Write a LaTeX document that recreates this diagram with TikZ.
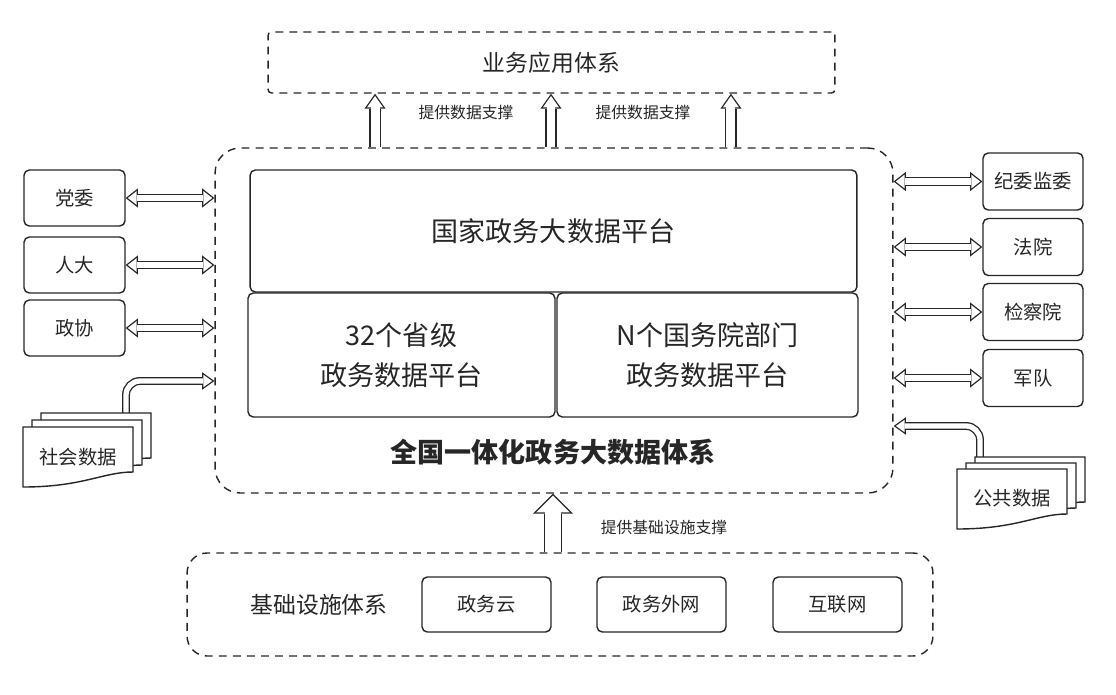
\documentclass[tikz,border=0pt]{standalone}
\usepackage{fontspec}
\setmainfont{Noto Sans CJK SC}
\usetikzlibrary{arrows.meta,positioning,calc}
\newcommand{\platfont}{\fontsize{15.4}{22.8}\selectfont}
\newcommand{\sysfont}{\fontsize{13}{15}\selectfont}
\newcommand{\orgfont}{\fontsize{11}{13}\selectfont}
\tikzset{sheet/.pic={\draw[fill=white, line width=0.8pt] (0,0) -- (110,0) -- (110,45) .. controls (80,45) and (60,60) .. (0,60) -- cycle;}}

\begin{document}
\begin{tikzpicture}[x=0.02cm, y=-0.02cm, color=black!85,
    box/.style={draw, line width=0.8pt, rounded corners=3pt, align=center, inner sep=0pt},
    dbox/.style={draw, dashed, dash pattern=on 4.5pt off 3.5pt, line width=0.8pt, inner sep=0pt},
    lbl/.style={font=\fontsize{9}{11}\selectfont, inner sep=0pt},
    % hollow arrows: a black shaft and head, then a white one inside
    link/.style={line width=5pt, {Triangle[width=11pt,length=7pt,line width=0pt]}-{Triangle[width=11pt,length=7pt,line width=0pt]},
        postaction={draw=white, line width=3.5pt, shorten <=1.21pt, shorten >=1.21pt,
        {Triangle[width=7.9pt,length=5.04pt,line width=0pt,color=white]}-{Triangle[width=7.9pt,length=5.04pt,line width=0pt,color=white]}}},
    feed/.style={line width=4.5pt, rounded corners=8pt, -{Triangle[width=10pt,length=7pt,line width=0pt]},
        postaction={draw=white, line width=3pt, shorten >=1.29pt, -{Triangle[width=7.1pt,length=4.96pt,line width=0pt,color=white]}}},
    uparr/.style={line width=6.6pt, -{Triangle[width=12pt,length=8.5pt,line width=0pt]},
        postaction={draw=white, line width=5.1pt, shorten >=1.3pt, -{Triangle[width=9.1pt,length=6.45pt,line width=0pt,color=white]}}},
    bigarr/.style={line width=10.2pt, -{Triangle[width=22.8pt,length=11.4pt,line width=0pt]},
        postaction={draw=white, line width=8.7pt, shorten >=1.06pt, -{Triangle[width=19.2pt,length=9.6pt,line width=0pt,color=white]}}}]
        \useasboundingbox (0,0) rectangle (1116,694);

        % business applications on top
        \node[dbox, rounded corners=2pt, minimum width=11.34cm, minimum height=1.22cm, font=\sysfont] (app) at (551.5,62.5) {业务应用体系};

        % the integrated big data system
        \node[dbox, rounded corners=0.5cm, minimum width=13.56cm, minimum height=6.9cm] (sys) at (554,320.5) {};
        \node[box, minimum width=12.14cm, minimum height=2.44cm, font=\platfont] (nat) at (553.5,231) {国家政务大数据平台};
        \node[box, minimum width=6.14cm, minimum height=2.48cm, font=\platfont] (prov) at (401.5,355) {32个省级\\政务数据平台};
        \node[box, minimum width=6.02cm, minimum height=2.48cm, font=\platfont] (dept) at (707.5,355) {N个国务院部门\\政务数据平台};
        \node[font=\platfont\bfseries] (title) at (553,452) {全国一体化政务大数据体系};

        % organisations left and right
        \node[box, minimum width=2.02cm, minimum height=1.12cm, font=\orgfont] (dw) at (74.5,198) {党委};
        \node[box, minimum width=2.02cm, minimum height=1.12cm, font=\orgfont] (rd) at (74.5,265) {人大};
        \node[box, minimum width=2.02cm, minimum height=1.12cm, font=\orgfont] (zx) at (74.5,328) {政协};
        \node[box, minimum width=2cm, minimum height=1.14cm, font=\orgfont] (jw) at (1033,181.5) {纪委监委};
        \node[box, minimum width=2cm, minimum height=1.14cm, font=\orgfont] (fy) at (1033,247) {法院};
        \node[box, minimum width=2cm, minimum height=1.14cm, font=\orgfont] (jcy) at (1033,312) {检察院};
        \node[box, minimum width=2cm, minimum height=1.14cm, font=\orgfont] (jd) at (1033,378) {军队};

        \foreach \n in {dw,rd,zx} \draw[link] (\n.east) -- (\n.east -| sys.west);
        \foreach \n in {jw,fy,jcy,jd} \draw[link] (\n.west) -- (\n.west -| sys.east);

        % data sources
        \coordinate (soctop) at (126,413);
        \coordinate (socin) at ([yshift=-1.21cm]sys.west);
        \draw[feed] (soctop) |- (socin);
        \coordinate (pubtop) at (980,457);
        \coordinate (pubin) at ([yshift=-2.11cm]sys.east);
        \draw[feed] (pubtop) |- (pubin);
        \pic at (41,413) {sheet};
        \pic at (32,420) {sheet};
        \pic at (23,427) {sheet};
        \node[font=\orgfont] (soc) at (78,457) {社会数据};
        \pic at (975,457) {sheet};
        \pic at (966,463) {sheet};
        \pic at (957,469) {sheet};
        \node[font=\orgfont] (pub) at (1012,498) {公共数据};

        % support arrows to the applications
        \foreach \dx/\n in {-3.58/1, -0.06/2, 3.54/3} {
            \coordinate (up\n) at ([xshift=\dx cm]sys.north);
            \draw[uparr] (up\n) -- (up\n |- app.south);
        }
        \node[lbl] (sup1) at (466,113) {提供数据支撑};
        \node[lbl] (sup2) at (643,113) {提供数据支撑};

        % infrastructure at the bottom
        \node[dbox, rounded corners=0.4cm, minimum width=14.92cm, minimum height=2.06cm] (infra) at (560,604.5) {};
        \node[font=\sysfont] (infname) at (319,605) {基础设施体系};
        \node[box, minimum width=2.58cm, minimum height=1.1cm, font=\orgfont] (cloud) at (486.5,604.5) {政务云};
        \node[box, minimum width=2.58cm, minimum height=1.1cm, font=\orgfont] (extnet) at (661.5,604.5) {政务外网};
        \node[box, minimum width=2.58cm, minimum height=1.1cm, font=\orgfont] (inet) at (837.5,604.5) {互联网};

        \coordinate (infup) at ([xshift=-0.14cm]infra.north);
        \draw[bigarr] (infup) -- (infup |- sys.south);
        \node[lbl] (sup3) at (664,527) {提供基础设施支撑};
    \end{tikzpicture}
\end{document}
